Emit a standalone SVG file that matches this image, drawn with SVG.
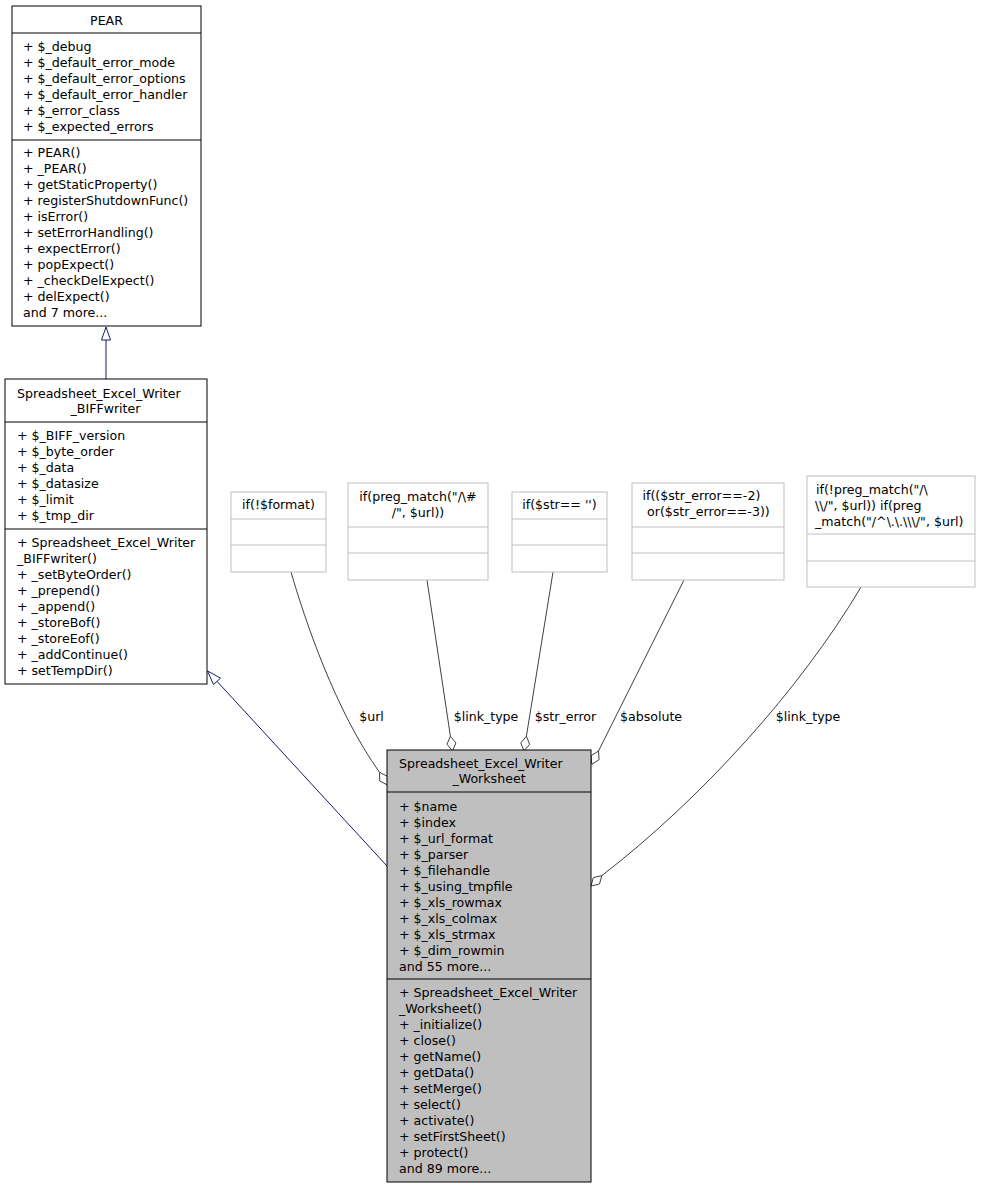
<svg xmlns="http://www.w3.org/2000/svg" width="981" height="1189" viewBox="0 0 981 1189">
<style>
text{font-family:"DejaVu Sans","Liberation Sans",sans-serif;font-size:12.6px;fill:#000}
.c{text-anchor:middle}
.box{fill:#fff;stroke:#000;stroke-width:1}
.sel{fill:#bfbfbf;stroke:#000;stroke-width:1}
.ghost{fill:#fff;stroke:#bfbfbf;stroke-width:1}
.sep{stroke:#000;stroke-width:1}
.gsep{stroke:#bfbfbf;stroke-width:1}
.inh{fill:none;stroke:#191970;stroke-width:1}
.inhh{fill:#fff;stroke:#191970;stroke-width:1}
.agg{fill:none;stroke:#404040;stroke-width:1}
.aggh{fill:#fff;stroke:#404040;stroke-width:1}
</style>
<rect width="981" height="1189" fill="#fff"/>
<g id="connectors">
  <path class="inh" d="M106,340 L106,379"/>
  <polygon class="inhh" points="106,327 101.5,340 110.5,340"/>
  <path class="inh" d="M217,681.3 L387,866"/>
  <polygon class="inhh" points="207.5,671 220.5,678.1 213.5,684.5"/>
  <path class="agg" d="M291,572 C305,620 335,710 379.5,772.3"/>
  <polygon class="aggh" points="387.5,785 387.3,776.2 379.5,772.3 379.7,781"/>
  <path class="agg" d="M427,580 L450.4,736.2"/>
  <polygon class="aggh" points="452.5,751 455.9,743 450.4,736.2 447,744.2"/>
  <path class="agg" d="M553,572 L526.4,736.2"/>
  <polygon class="aggh" points="524,751 529.6,744.3 526.4,736.2 520.8,742.9"/>
  <path class="agg" d="M684,580 L598.5,751"/>
  <polygon class="aggh" points="591.8,764.4 599.1,759.7 598.5,751 591.1,755.7"/>
  <path class="agg" d="M861,587 C800,690 700,800 601.8,875.6"/>
  <polygon class="aggh" points="591,886 599.5,884 601.8,875.6 593.3,877.6"/>
  <text class="c" x="371.5" y="721">$url</text>
  <text class="c" x="486" y="721">$link_type</text>
  <text class="c" x="565.5" y="721">$str_error</text>
  <text class="c" x="651" y="721">$absolute</text>
  <text class="c" x="808" y="721">$link_type</text>
</g>
<g id="PEAR">
  <rect class="box" x="12" y="6" width="189" height="320"/>
  <line class="sep" x1="12" y1="33" x2="201" y2="33"/>
  <line class="sep" x1="12" y1="140" x2="201" y2="140"/>
  <text class="c" x="106.5" y="24.5">PEAR</text>
  <text x="23" y="51">+ $_debug</text>
  <text x="23" y="67">+ $_default_error_mode</text>
  <text x="23" y="83">+ $_default_error_options</text>
  <text x="23" y="99">+ $_default_error_handler</text>
  <text x="23" y="115">+ $_error_class</text>
  <text x="23" y="131">+ $_expected_errors</text>
  <text x="23" y="157">+ PEAR()</text>
  <text x="23" y="173">+ _PEAR()</text>
  <text x="23" y="189">+ getStaticProperty()</text>
  <text x="23" y="205">+ registerShutdownFunc()</text>
  <text x="23" y="221">+ isError()</text>
  <text x="23" y="237">+ setErrorHandling()</text>
  <text x="23" y="253">+ expectError()</text>
  <text x="23" y="269">+ popExpect()</text>
  <text x="23" y="285">+ _checkDelExpect()</text>
  <text x="23" y="301">+ delExpect()</text>
  <text x="23" y="317">and 7 more...</text>
</g>
<g id="BIFFwriter">
  <rect class="box" x="5" y="379" width="202" height="305"/>
  <line class="sep" x1="5" y1="422" x2="207" y2="422"/>
  <line class="sep" x1="5" y1="529" x2="207" y2="529"/>
  <text x="17" y="397.5">Spreadsheet_Excel_Writer</text>
  <text class="c" x="105.5" y="412.5">_BIFFwriter</text>
  <text x="17" y="440">+ $_BIFF_version</text>
  <text x="17" y="456">+ $_byte_order</text>
  <text x="17" y="472">+ $_data</text>
  <text x="17" y="488">+ $_datasize</text>
  <text x="17" y="504">+ $_limit</text>
  <text x="17" y="520">+ $_tmp_dir</text>
  <text x="17" y="547">+ Spreadsheet_Excel_Writer</text>
  <text x="17" y="563">_BIFFwriter()</text>
  <text x="17" y="579">+ _setByteOrder()</text>
  <text x="17" y="595">+ _prepend()</text>
  <text x="17" y="611">+ _append()</text>
  <text x="17" y="627">+ _storeBof()</text>
  <text x="17" y="643">+ _storeEof()</text>
  <text x="17" y="659">+ _addContinue()</text>
  <text x="17" y="675">+ setTempDir()</text>
</g>
<g id="Worksheet">
  <rect class="sel" x="387" y="750" width="204" height="432"/>
  <line class="sep" x1="387" y1="792" x2="591" y2="792"/>
  <line class="sep" x1="387" y1="979" x2="591" y2="979"/>
  <text x="399" y="767.5">Spreadsheet_Excel_Writer</text>
  <text class="c" x="489" y="782.5">_Worksheet</text>
  <text x="399" y="811">+ $name</text>
  <text x="399" y="827">+ $index</text>
  <text x="399" y="843">+ $_url_format</text>
  <text x="399" y="859">+ $_parser</text>
  <text x="399" y="875">+ $_filehandle</text>
  <text x="399" y="891">+ $_using_tmpfile</text>
  <text x="399" y="907">+ $_xls_rowmax</text>
  <text x="399" y="923">+ $_xls_colmax</text>
  <text x="399" y="939">+ $_xls_strmax</text>
  <text x="399" y="955">+ $_dim_rowmin</text>
  <text x="399" y="971">and 55 more...</text>
  <text x="399" y="997">+ Spreadsheet_Excel_Writer</text>
  <text x="399" y="1013">_Worksheet()</text>
  <text x="399" y="1029">+ _initialize()</text>
  <text x="399" y="1045">+ close()</text>
  <text x="399" y="1061">+ getName()</text>
  <text x="399" y="1077">+ getData()</text>
  <text x="399" y="1093">+ setMerge()</text>
  <text x="399" y="1109">+ select()</text>
  <text x="399" y="1125">+ activate()</text>
  <text x="399" y="1141">+ setFirstSheet()</text>
  <text x="399" y="1157">+ protect()</text>
  <text x="399" y="1173">and 89 more...</text>
</g>
<g id="if_format">
  <rect class="ghost" x="231" y="492" width="95" height="80"/>
  <line class="gsep" x1="231" y1="519" x2="326" y2="519"/>
  <line class="gsep" x1="231" y1="545" x2="326" y2="545"/>
  <text class="c" x="278.5" y="508.5">if(!$format)</text>
</g>
<g id="if_preg_hash">
  <rect class="ghost" x="348" y="483" width="140" height="97"/>
  <line class="gsep" x1="348" y1="527" x2="488" y2="527"/>
  <line class="gsep" x1="348" y1="553" x2="488" y2="553"/>
  <text class="c" x="418" y="500.5">if(preg_match("/\#</text>
  <text class="c" x="418" y="516.5">/", $url))</text>
</g>
<g id="if_str">
  <rect class="ghost" x="512" y="492" width="95" height="80"/>
  <line class="gsep" x1="512" y1="519" x2="607" y2="519"/>
  <line class="gsep" x1="512" y1="545" x2="607" y2="545"/>
  <text class="c" x="559.5" y="508.5">if($str== '')</text>
</g>
<g id="if_str_error">
  <rect class="ghost" x="632" y="483" width="152" height="97"/>
  <line class="gsep" x1="632" y1="527" x2="784" y2="527"/>
  <line class="gsep" x1="632" y1="553" x2="784" y2="553"/>
  <text x="642.5" y="500">if(($str_error==-2)</text>
  <text x="647" y="516">or($str_error==-3))</text>
</g>
<g id="if_not_preg">
  <rect class="ghost" x="807" y="476" width="168" height="111"/>
  <line class="gsep" x1="807" y1="534" x2="975" y2="534"/>
  <line class="gsep" x1="807" y1="561" x2="975" y2="561"/>
  <text x="816" y="494">if(!preg_match("/\</text>
  <text x="815" y="510">\\/", $url)) if(preg</text>
  <text x="815" y="526">_match("/^\.\.\\\/", $url)</text>
</g>
</svg>
